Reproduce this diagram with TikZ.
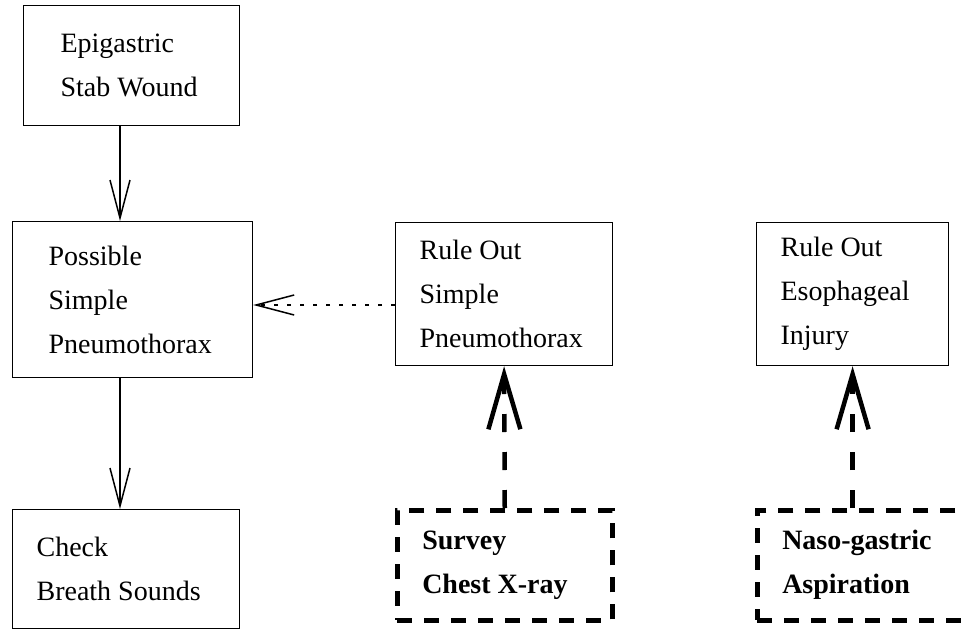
\documentclass[tikz,border=0pt]{standalone}
\usepackage{fontspec}
\setmainfont{Liberation Serif}
\usetikzlibrary{arrows.meta}

\begin{document}
\begin{tikzpicture}[x=1pt,y=-1pt,>={Straight Barb[length=38pt,width=20pt]},
  box/.style={draw,line width=1.2pt,anchor=north west,align=flush left,inner ysep=0pt,
    font=\fontsize{28}{44}\selectfont},
  exam/.style={box,line width=4.5pt,dash pattern=on 15pt off 12pt,
    font=\fontsize{28}{44}\selectfont\bfseries},
  flow/.style={->,line width=1.5pt},
  check/.style={-{Straight Barb[length=55pt,width=32pt]},line width=4.5pt,
    dash pattern=on 18pt off 20pt}]
  \useasboundingbox (0,0) rectangle (966,629);
  \coordinate (col) at (120,0);
  \coordinate (lvl) at (0,305);

  % Clinical chain
  \node[box,minimum height=120pt,inner xsep=37pt,text width=142pt] (epi) at (23,5) {Epigastric\\Stab Wound};
  \node[box,minimum height=156pt,inner xsep=36pt,text width=168pt] (poss) at (12,221) {Possible\\Simple\\Pneumothorax};
  \node[box,minimum height=119pt,inner xsep=24pt,text width=179pt] (chk) at (12,509) {Check\\Breath Sounds};

  % Goals
  \node[box,minimum height=143pt,inner xsep=24pt,text width=169pt] (ruleA) at (395,222) {Rule Out\\Simple\\Pneumothorax};
  \node[box,minimum height=143pt,inner xsep=24pt,text width=144pt] (ruleB) at (756,222) {Rule Out\\Esophageal\\Injury};

  % Tests
  \node[exam,minimum height=110pt,inner xsep=25pt,text width=165pt] (xray) at (395,508) {Survey\\Chest X-ray};
  \node[exam,minimum height=110pt,inner xsep=25pt,text width=210pt] (naso) at (755,508) {Naso-gastric\\Aspiration};

  \draw[flow] (epi.south -| col) -- (poss.north -| col);
  \draw[flow] (poss.south -| col) -- (chk.north -| col);
  \draw[flow,dash pattern=on 4pt off 9pt] (ruleA.west |- lvl) -- (poss.east |- lvl);
  \draw[check] (xray.north) -- (ruleA.south);
  \draw[check] (naso.north -| ruleB.south) -- (ruleB.south);
\end{tikzpicture}
\end{document}
